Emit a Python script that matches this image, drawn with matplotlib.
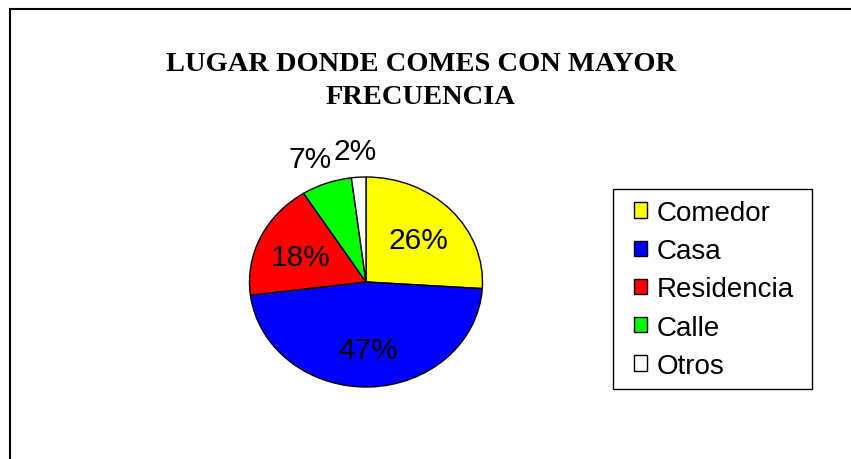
import numpy as np
import matplotlib
matplotlib.use("Agg")
import matplotlib.pyplot as plt
from matplotlib.patches import Patch, Rectangle
from matplotlib.lines import Line2D

categories = ["Comedor", "Casa", "Residencia", "Calle", "Otros"]
values = [26, 47, 18, 7, 2]
colors = ["#FFFF00", "#0000FF", "#FF0000", "#00FF00", "#FFFFFF"]
title = "LUGAR DONDE COMES CON MAYOR\nFRECUENCIA"

W, H = 851, 460
fig = plt.figure(figsize=(W / 100, H / 100), dpi=100)
fig.patch.set_facecolor("white")

# frame lines (top and left)
fig.add_artist(Line2D([10 / W, 10 / W], [0, 1 - 10 / H], transform=fig.transFigure, color="black", lw=1.5))
fig.add_artist(Line2D([10 / W, 1], [1 - 10 / H, 1 - 10 / H], transform=fig.transFigure, color="black", lw=1.5))

cx, cy, rx, ry = 366, 283, 116.5, 105
ax = fig.add_axes([(cx - rx) / W, (H - cy - ry) / H, 2 * rx / W, 2 * ry / H])
wedges, _ = ax.pie(values, colors=colors, startangle=90, counterclock=False,
                   wedgeprops=dict(edgecolor="black", linewidth=1.0))
ax.set_aspect("auto")
ax.set_xlim(-1, 1)
ax.set_ylim(-1, 1)
ax.axis("off")

total = sum(values)
for w, v in zip(wedges, values):
    mid = np.deg2rad((w.theta1 + w.theta2) / 2)
    inside = v >= 10
    r = 0.62 if inside else 1.25
    dx = 0 if inside else 20 * np.cos(mid)
    ax.annotate(f"{round(100 * v / total)}%", (r * np.cos(mid), r * np.sin(mid)),
                xytext=(dx, 0), textcoords="offset pixels", annotation_clip=False,
                ha="center", va="center_baseline" if inside else "center",
                fontsize=21.5, family="Liberation Sans", color="black")

fig.text(421 / W, 1 - 81 / H, title, ha="center", va="center", fontsize=20.5,
         fontweight="bold", family="Liberation Serif", linespacing=1.4)

# legend box
fig.add_artist(Rectangle((613 / W, 1 - 390 / H), 199 / W, 200 / H, transform=fig.transFigure,
                         facecolor="white", edgecolor="black", linewidth=1.0, zorder=3))
handles = [Patch(facecolor=c, edgecolor="black", linewidth=1.0) for c in colors]
leg = fig.legend(handles, categories, loc="upper left", bbox_to_anchor=(634 / W, 1 - 201 / H),
                 bbox_transform=fig.transFigure, frameon=False,
                 prop=dict(family="Liberation Sans", size=20), handlelength=0.47, handleheight=0.47,
                 handletextpad=0.36, labelspacing=0.44, borderpad=0, borderaxespad=0)
leg.set_zorder(4)

fig.savefig("out.png", dpi=100)
